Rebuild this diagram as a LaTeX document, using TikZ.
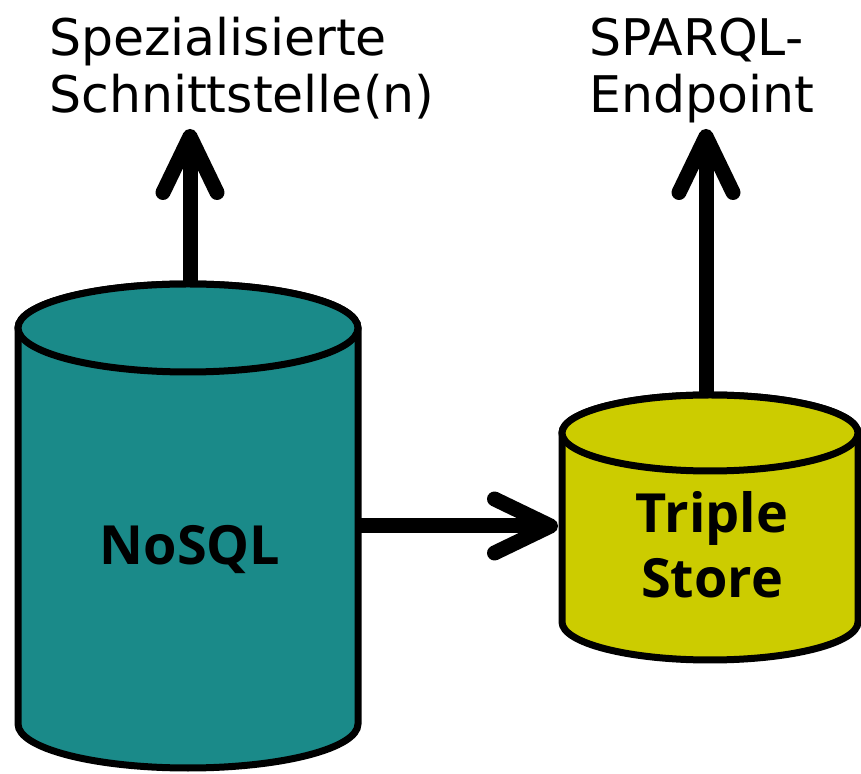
\documentclass[tikz,border=0pt]{standalone}
\usepackage{fontspec}
\setmainfont{Open Sans}
\newfontfamily\labelfont{DejaVu Sans}
\usetikzlibrary{arrows.meta}
\definecolor{nosqlteal}{RGB}{26,138,137}
\definecolor{storeyellow}{RGB}{204,204,0}
% drum: centre x, top y, bottom y, x radius, y radius, fill
\newcommand\drum[6]{%
  \draw[drum,fill=#6] (#1-#4,#2) arc[start angle=180,end angle=0,x radius=#4,y radius=#5]
    -- (#1+#4,#3) arc[start angle=0,end angle=-180,x radius=#4,y radius=#5] -- cycle;
  \draw[drum,fill=#6] (#1,#2) ellipse[x radius=#4,y radius=#5];}
\begin{document}
\begin{tikzpicture}[x=1pt,y=1pt,
    drum/.style={line width=7pt,draw=black},
    flow/.style={line width=15pt,-{Straight Barb[length=56pt,width=54pt,line cap=round,line join=round]}},
    caption/.style={align=left,inner sep=0pt,font=\labelfont\fontsize{50.5}{57}\selectfont},
    dbname/.style={align=center,inner sep=0pt,font=\fontsize{54}{65}\selectfont\bfseries}]
  \useasboundingbox (0,0) rectangle (861,773);
  \drum{188}{445}{49}{170}{44}{nosqlteal}
  \drum{710}{340}{151}{148}{38}{storeyellow}
  \node[dbname] (nosql) at (190,223) {NoSQL};
  \node[dbname] (triple) at (712,228) {Triple\\Store};
  \node[caption,anchor=north west] (api) at (49,756) {Spezialisierte\\Schnittstelle(n)};
  \node[caption,anchor=north west] (sparql) at (589,755) {SPARQL-\\Endpoint};
  \coordinate (nosql-top) at (190,489);
  \coordinate (nosql-right) at (358,247);
  \coordinate (triple-top) at (706,378);
  \coordinate (triple-left) at (558,247);
  \coordinate (api-in) at (190,644);
  \coordinate (sparql-in) at (706,644);
  \draw[flow] (nosql-top) -- (api-in);
  \draw[flow] (triple-top) -- (sparql-in);
  \draw[flow] (nosql-right) -- (triple-left);
\end{tikzpicture}
\end{document}
